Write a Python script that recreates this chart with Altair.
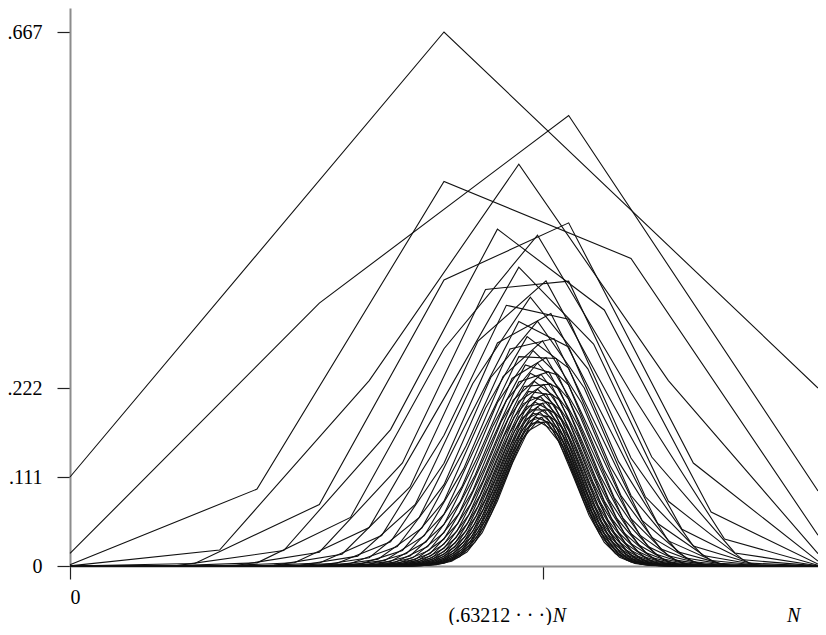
import altair as alt
import pandas as pd
from math import comb, factorial

# ---- data -------------------------------------------------------------
# one curve per table size n: distribution of the number of distinct values
# (image size k = 1..n) of a random mapping of n elements, plotted at (k-1)/(n-1)
curve_sizes = list(range(3, 51))

y_tick_values = [0, 1 / 9, 2 / 9, 2 / 3]
y_tick_labels = ["0", ".111", ".222", ".667"]
x_tick_values = [0, 0.63212]
x_tick_labels = ["0", ""]
mid_label_x = [0.63212]
mid_label_text = ["(.63212 · · ·)"]
var_label_x = [0.63212, 1.0]
var_label_text = ["N", "N"]

# Stirling numbers of the second kind, exact integers
max_n = max(curve_sizes)
S = [[0] * (max_n + 1) for _ in range(max_n + 1)]
S[0][0] = 1
for i in range(1, max_n + 1):
    for k in range(1, i + 1):
        S[i][k] = k * S[i - 1][k] + S[i - 1][k - 1]

rows = []
for n in curve_sizes:
    total = n ** n
    for k in range(1, n + 1):
        count = comb(n, k) * S[n][k] * factorial(k)
        rows.append({"n": n, "x": (k - 1) / (n - 1), "p": count / total})
df = pd.DataFrame(rows)


def label_expr(vals, labels):
    expr = "''"
    for v, l in reversed(list(zip(vals, labels))):
        expr = f"abs(datum.value - {v!r}) < 1e-6 ? '{l}' : ({expr})"
    return expr


FONT = "Liberation Serif"
FS = 20
y_top = (2 / 3) * 558 / 534
LABEL_DY = 56

axis_common = dict(
    title=None,
    grid=False,
    tickSize=13,
    domainColor="#8c8c8c",
    domainWidth=2,
    tickColor="#222222",
    tickWidth=1.2,
    labelFont=FONT,
    labelFontSize=FS,
    labelColor="black",
)

xscale = alt.Scale(domain=[0, 1], nice=False, zero=False)
yscale = alt.Scale(domain=[0, y_top], nice=False)

lines = alt.Chart(df).mark_line(color="#111111", strokeWidth=1.1).encode(
    x=alt.X(
        "x:Q",
        scale=xscale,
        axis=alt.Axis(
            values=x_tick_values,
            labelExpr=label_expr(x_tick_values, x_tick_labels),
            labelPadding=8,
            **axis_common,
        ),
    ),
    y=alt.Y(
        "p:Q",
        scale=yscale,
        axis=alt.Axis(
            values=y_tick_values,
            labelExpr=label_expr(y_tick_values, y_tick_labels),
            labelPadding=15,
            **axis_common,
        ),
    ),
    detail="n:N",
    order="x:Q",
)

mid_df = pd.DataFrame({"x": mid_label_x, "y": [0] * len(mid_label_x), "t": mid_label_text})
var_df = pd.DataFrame({"x": var_label_x, "y": [0] * len(var_label_x), "t": var_label_text})

mid_text = alt.Chart(mid_df).mark_text(
    align="right", baseline="alphabetic", dx=9, dy=LABEL_DY, font=FONT, fontSize=FS, color="black"
).encode(x=alt.X("x:Q", scale=xscale), y=alt.Y("y:Q", scale=yscale), text="t:N")

var_text1 = alt.Chart(var_df.iloc[[0]]).mark_text(
    align="left", baseline="alphabetic", dx=10, dy=LABEL_DY, font=FONT, fontSize=FS,
    fontStyle="italic", color="black"
).encode(x=alt.X("x:Q", scale=xscale), y=alt.Y("y:Q", scale=yscale), text="t:N")

var_text2 = alt.Chart(var_df.iloc[[1]]).mark_text(
    align="left", baseline="alphabetic", dx=-31, dy=LABEL_DY, font=FONT, fontSize=FS,
    fontStyle="italic", color="black"
).encode(x=alt.X("x:Q", scale=xscale), y=alt.Y("y:Q", scale=yscale), text="t:N")

chart = (
    alt.layer(lines, mid_text, var_text1, var_text2)
    .properties(
        width=748,
        height=558,
        autosize=alt.AutoSizeParams(type="none"),
        padding={"left": 62, "top": 0, "right": 0, "bottom": 59},
    )
    .configure_view(stroke=None)
)

chart.save("out.html", embed_options={"renderer": "svg", "actions": False})
